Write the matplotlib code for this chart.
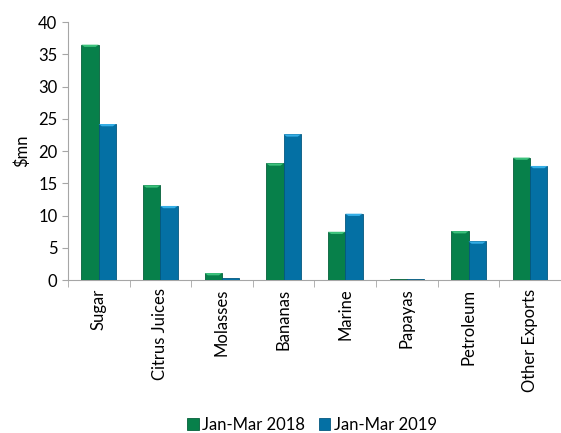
import numpy as np
import matplotlib.pyplot as plt

categories = ["Sugar", "Citrus Juices", "Molasses", "Bananas", "Marine",
              "Papayas", "Petroleum", "Other Exports"]
values_2018 = [36.5, 14.7, 1.1, 18.1, 7.5, 0.15, 7.6, 19.0]
values_2019 = [24.2, 11.5, 0.3, 22.6, 10.3, 0.15, 6.0, 17.7]
series_labels = ["Jan-Mar 2018", "Jan-Mar 2019"]

plt.rcParams["font.family"] = ["Lato", "DejaVu Sans"]

fig = plt.figure(figsize=(5.61, 4.33), dpi=100)
ax = fig.add_axes([0.121, 0.353, 0.879, 0.596])

x = np.arange(len(categories))
w = 0.28
green, blue = "#07804a", "#0470a4"
green_top, blue_top = "#3cc27c", "#35aee6"

b1 = ax.bar(x - w / 2, values_2018, w, color=green, edgecolor="#05603a",
            linewidth=0.6, label=series_labels[0], zorder=3)
b2 = ax.bar(x + w / 2, values_2019, w, color=blue, edgecolor="#04587f",
            linewidth=0.6, label=series_labels[1], zorder=3)

# lighter bevel cap on top of each bar
cap = 0.35
for vals, off, col in [(values_2018, -w / 2, green_top), (values_2019, w / 2, blue_top)]:
    for xi, v in zip(x, vals):
        if v > cap * 2:
            ax.fill([xi + off - w / 2, xi + off + w / 2, xi + off + w / 2 - 0.05,
                     xi + off - w / 2 + 0.05],
                    [v, v, v - cap, v - cap], color=col, lw=0, zorder=4)

ax.set_xlim(-0.5, len(categories) - 0.5)
ax.set_ylim(0, 40)
ax.set_yticks(range(0, 41, 5))
ax.set_ylabel("$mn", fontsize=12, labelpad=6)

ax.set_xticks(x)
ax.set_xticklabels(categories, rotation=90, fontsize=12)
ax.set_xticks(np.arange(-0.5, len(categories), 1), minor=True)
ax.tick_params(axis="x", which="major", length=0, pad=6)
ax.tick_params(axis="x", which="minor", length=5, color="#a6a6a6")
ax.tick_params(axis="y", length=4, color="#a6a6a6", labelsize=12)

for s in ["top", "right"]:
    ax.spines[s].set_visible(False)
for s in ["left", "bottom"]:
    ax.spines[s].set_color("#a6a6a6")

fig.legend(handles=[b1, b2], labels=series_labels, loc="lower center",
           bbox_to_anchor=(0.556, -0.035), ncol=2, frameon=False, fontsize=12,
           handlelength=0.7, handleheight=0.7, handletextpad=0.2,
           columnspacing=0.8)

fig.savefig("out.png", dpi=100)
